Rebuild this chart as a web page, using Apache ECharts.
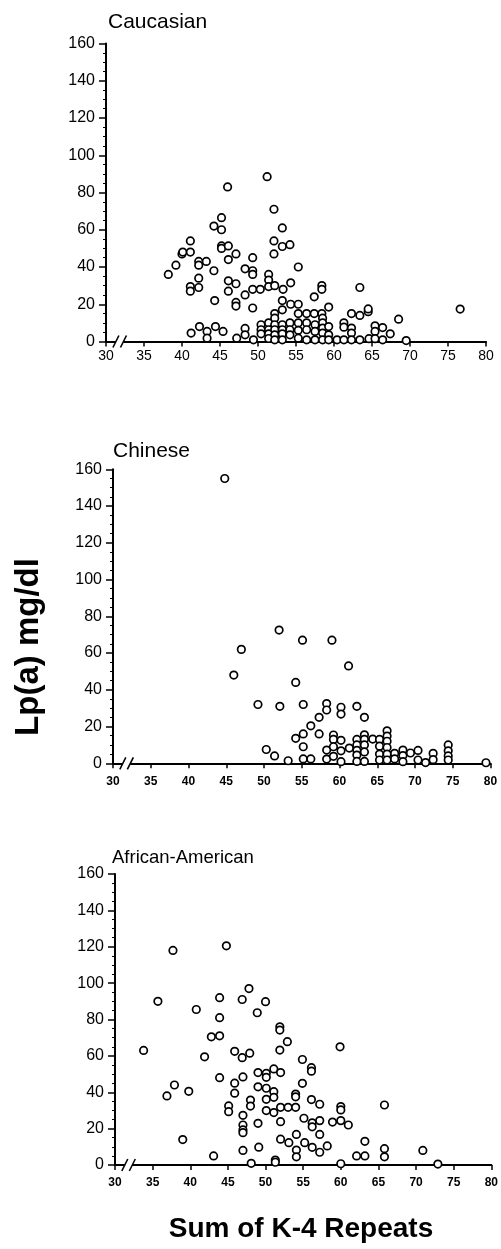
<!DOCTYPE html>
<html><head><meta charset="utf-8">
<script src="https://cdn.jsdelivr.net/npm/echarts@6/dist/echarts.min.js"></script>
<style>html,body{margin:0;padding:0;background:#fff}#c{width:501px;height:1249px}</style>
</head><body><div id="c"></div>
<script>
const panelTitles = ['Caucasian', 'Chinese', 'African-American'];
const yAxisTitle = 'Lp(a) mg/dl';
const xAxisTitle = 'Sum of K-4 Repeats';
const xMin = 30, xMax = 80, xStep = 5;
const yMin = 0, yMax = 160, yStep = 20;

// [sum of K-4 repeats, Lp(a) mg/dl]
const caucasian = [
  [38.2,36],[39.2,41],[40,47],[40.1,48],[41.1,48],[41.1,54],[41.1,29.5],[41.1,27],[41.2,4.5],
  [42.2,43],[42.2,41],[42.2,34],[42.2,29],[42.3,8],[43.2,43],[43.3,5.4],[43.3,1.8],
  [44.2,62],[44.2,38],[44.3,22],[44.4,8],[45.2,66.5],[45.2,60],[45.2,51.3],[45.2,50],[45.4,5.4],
  [46,83],[46.1,51.3],[46.1,44],[46.1,32.6],[46.1,27],[47.1,47],[47.1,31],[47.1,21],[47.1,19],[47.2,1.8],
  [48.3,39],[48.3,25],[48.3,7],[48.3,3.6],[49.3,45],[49.3,38],[49.3,36],[49.3,28],[49.3,18],[49.4,0.9],
  [50.3,28],[50.4,9],[50.4,6.3],[50.4,4.1],[51.2,88.5],[51.4,36],[51.4,33],[51.4,29.5],[51.4,10],[51.4,6.3],[51.4,4.1],[51.4,1.6],
  [52.1,71],[52.1,54],[52.1,47],[52.2,30],[52.2,15],[52.2,12.5],[52.2,9],[52.2,6.3],[52.2,3.6],[52.2,0.9],
  [53.2,61],[53.2,51],[53.3,28],[53.2,22],[53.2,17],[53.2,9],[53.2,6.3],[53.2,4.1],[53.2,0.9],
  [54.2,52],[54.3,31.5],[54.3,20],[54.2,10],[54.2,6.3],[54.2,3.6],
  [55.3,40],[55.3,20],[55.3,15],[55.3,10],[55.3,6],[55.3,1.8],
  [56.4,15],[56.4,10],[56.4,6.3],[56.4,0.9],[57.4,24],[57.4,15],[57.5,9],[57.5,5.4],[57.5,0.9],
  [58.4,30],[58.4,28],[58.4,15],[58.5,12.5],[58.5,10],[58.5,7.2],[58.5,4.5],[58.5,0.9],
  [59.3,18.5],[59.3,8],[59.3,3.6],[59.3,0.9],[60.4,0.9],[61.3,10],[61.3,7.7],[61.3,0.9],
  [62.3,15],[62.3,7.2],[62.3,4.5],[62.3,0.9],[63.4,29],[63.4,14],[63.4,0.9],
  [64.5,16],[64.5,17.5],[64.6,1.5],[65.4,8.4],[65.4,5.4],[65.4,1.5],[66.4,7.5],[66.4,0.9],
  [67.4,4.1],[68.5,12],[69.5,0.5],[76.6,17.4]
];
const chinese = [
  [44.8,155],[46,48],[47,62],[49.2,32],[50.3,7.5],[51.4,4],[52,72.5],[52.1,31],[53.2,1.4],
  [54.2,44],[54.2,13.6],[55.1,67],[55.2,32],[55.2,16],[55.2,9],[55.2,2.4],[56.2,20.4],[56.2,2.4],
  [57.3,25],[57.3,16],[58.3,32.5],[58.3,29],[58.3,7.2],[58.3,2.3],[59,67],
  [59.2,15.4],[59.2,13],[59.2,9],[59.2,3.8],[60.2,30.5],[60.2,26.8],[60.2,12.5],[60.2,6.8],[60.2,0.9],
  [61.2,53],[61.3,8.3],[62.3,31],[62.3,13],[62.3,10],[62.3,7],[62.3,4.5],[62.3,1],
  [63.3,25],[63.3,15.5],[63.3,13],[63.3,10],[63.3,6.2],[63.3,1],[64.4,13.2],
  [65.3,13],[65.3,9.3],[65.3,5],[65.3,1.8],[66.3,17.7],[66.3,14.8],[66.3,12],[66.3,8.6],[66.3,5],[66.3,1.8],
  [67.3,5.4],[67.3,2.4],[68.4,7.2],[68.4,4.2],[68.4,0.9],[69.4,5.6],[70.4,7],[70.4,1.8],[71.4,0.4],
  [72.4,5.4],[72.4,2],[74.4,10],[74.4,6.8],[74.4,4],[74.4,1.8],[79.4,0.3]
];
const africanAmerican = [
  [33.8,63],[35.7,90],[37.7,118],[36.9,38],[37.9,44],[39.8,40.5],[39,14],[40.8,85.5],[41.9,59.5],
  [42.8,70.5],[43.9,71],[43.9,81],[43.9,92],[43.1,5],[44.8,120.5],[43.9,48],[45.9,45],[45.9,39.5],[45.9,62.5],
  [46.9,91],[47.8,97],[46.9,59],[47.9,61.5],[47,48.4],[45.1,32.5],[45.1,29.3],[47,27.3],[47,22],[47,19.3],[47,17.8],[47,8],
  [48,35.7],[48,32.4],[48.1,0.9],[48.9,83.7],[49,50.8],[49,43],[49,22.9],[49.1,9.8],
  [50,89.8],[50.1,50.4],[50.1,48.2],[50.1,42.2],[50.1,36.1],[50.1,29.9],
  [51.1,52.8],[51.1,40.3],[51.1,37.2],[51.1,28.8],[51.3,2.7],[51.3,1.5],
  [51.9,76],[51.9,74.2],[51.9,63.2],[52,50.8],[52,31.7],[52,23.8],[52,14.2],
  [52.9,67.8],[53,31.7],[53.1,12.3],[54,39],[54,37.5],[54,31.7],[54.1,16.8],[54.1,8.2],[54.1,4.5],
  [54.9,58],[54.9,44.9],[55.1,25.7],[55.2,12.3],[56.1,53.5],[56.1,51.6],[56.1,36],[56.2,23.2],[56.2,21],[56.2,9.7],
  [57.2,33.4],[57.2,24.4],[57.2,16.8],[57.2,7],[58.2,10.5],[58.9,23.6],[59.9,65],
  [60,32.1],[60,30.3],[60,24.4],[60,0.7],[61,22],[62.1,5],[63.2,5],[63.2,13],
  [65.8,33],[65.8,9],[65.8,4.5],[70.9,8],[72.9,0.5]
];
const panelData = [caucasian, chinese, africanAmerican];

const FONT = '"Liberation Sans", Arial, Helvetica, sans-serif';
const grids = [
  {left: 106, top: 43.5, width: 380, height: 298},
  {left: 113, top: 469.3, width: 377.5, height: 294},
  {left: 115, top: 874, width: 377.5, height: 291}
];
const xLabelStyle = [
  {fontSize: 14, fontWeight: 'normal', margin: 8},
  {fontSize: 12, fontWeight: 'bold', margin: 12},
  {fontSize: 12, fontWeight: 'bold', margin: 12}
];
const titleLayout = [
  {left: 103, top: 7, size: 21},
  {left: 108, top: 436, size: 21},
  {left: 107, top: 843, size: 18.5}
];

const axisLine = {show: true, lineStyle: {color: '#000', width: 2}};
const option = {
  animation: false,
  backgroundColor: '#fff',
  textStyle: {fontFamily: FONT},
  title: panelTitles.map((t, i) => ({
    text: t, left: titleLayout[i].left, top: titleLayout[i].top,
    textStyle: {fontFamily: FONT, fontSize: titleLayout[i].size, fontWeight: 'normal', color: '#000'}
  })),
  grid: grids,
  xAxis: grids.map((g, i) => ({
    type: 'value', gridIndex: i, min: xMin, max: xMax, interval: xStep,
    axisLine: axisLine,
    axisTick: {show: true, length: 5, lineStyle: {color: '#000', width: 1.5}},
    axisLabel: {color: '#000', fontFamily: FONT, fontSize: xLabelStyle[i].fontSize,
      fontWeight: xLabelStyle[i].fontWeight, margin: xLabelStyle[i].margin},
    splitLine: {show: false}
  })),
  yAxis: grids.map((g, i) => ({
    type: 'value', gridIndex: i, min: yMin, max: yMax, interval: yStep,
    axisLine: axisLine,
    axisTick: {show: true, length: 7, lineStyle: {color: '#000', width: 1.5}},
    minorTick: {show: true, splitNumber: 4, length: 3, lineStyle: {color: '#000', width: 1}},
    axisLabel: {color: '#000', fontFamily: FONT, fontSize: 16, margin: 11},
    splitLine: {show: false}
  })),
  series: panelData.map((d, i) => ({
    type: 'scatter', xAxisIndex: i, yAxisIndex: i, data: d,
    symbol: 'circle', symbolSize: 7.5,
    itemStyle: {color: '#fff', borderColor: '#000', borderWidth: 1.7, opacity: 1},
    z: 5
  }))
};

const chart = echarts.init(document.getElementById('c'), null, {renderer: 'canvas'});
chart.setOption(option);

// axis break marks and axis titles
const graphics = [];
for (let i = 0; i < 3; i++) {
  const a = chart.convertToPixel({gridIndex: i}, [31.3, 0]);
  const b = chart.convertToPixel({gridIndex: i}, [32.3, 0]);
  graphics.push({type: 'rect', shape: {x: a[0], y: a[1] - 2, width: b[0] - a[0], height: 4},
    style: {fill: '#fff'}, z: 10});
  [a, b].forEach(p => graphics.push({type: 'line',
    shape: {x1: p[0] - 3, y1: p[1] + 6, x2: p[0] + 3, y2: p[1] - 6},
    style: {stroke: '#000', lineWidth: 1.6}, z: 11}));
}
graphics.push({type: 'text', x: 29, y: 647, rotation: Math.PI / 2, z: 20,
  style: {text: yAxisTitle, font: 'bold 33px ' + FONT, fill: '#000', textAlign: 'center', textVerticalAlign: 'middle'}});
graphics.push({type: 'text', x: 301, y: 1229, z: 20,
  style: {text: xAxisTitle, font: 'bold 28px ' + FONT, fill: '#000', textAlign: 'center', textVerticalAlign: 'middle'}});
chart.setOption({graphic: graphics});
</script>
</body></html>
